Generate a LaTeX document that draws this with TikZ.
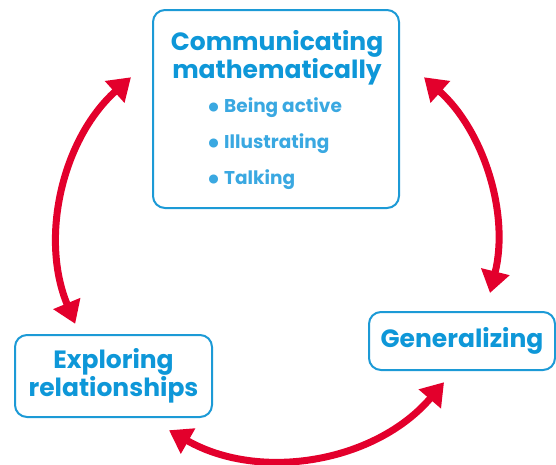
\documentclass[tikz,border=0pt]{standalone}
\usepackage{fontspec}
\newfontfamily\roundfont{Poppins}
\usepackage{tikz}
\usetikzlibrary{calc, arrows.meta, positioning}
\definecolor{boxblue}{HTML}{1C9AD6}
\definecolor{headblue}{HTML}{0E97D8}
\definecolor{itemblue}{HTML}{3AA8E1}
\definecolor{cyclered}{HTML}{E3002C}
\tikzstyle{cyclearc} = [draw=cyclered, line width=7pt, {Triangle[length=22pt,width=28pt]}-{Triangle[length=22pt,width=28pt]}]
\tikzstyle{box} = [draw=boxblue, line width=2pt, rounded corners=12pt]
\newcommand{\dotmark}{\raisebox{-4.5pt}{\fontsize{30}{30}\selectfont\textbullet}\hspace{3pt}}

\begin{document}
\begin{tikzpicture}
    [
        node distance=36pt,
        head/.style={text=headblue, font=\roundfont\bfseries\fontsize{25}{28}\selectfont, align=center, inner sep=0pt},
        point/.style={text=itemblue, font=\roundfont\bfseries\fontsize{18.5}{22}\selectfont, inner sep=0pt}
    ]
    \useasboundingbox (0,0) rectangle (556pt,-464pt);

    \begin{scope}
        % the three boxes
        \node[box, minimum width=246pt, minimum height=198pt] (comm) at (276pt,-109pt) {};
        \node[head] (comm_title) at (277pt,-58pt) {Communicating\\mathematically};
        \node[point, anchor=west] (being) at (206pt,-108pt) {\dotmark Being active};
        \node[point, below=of being.west, anchor=west] (illus) {\dotmark Illustrating};
        \node[point, below=of illus.west, anchor=west] (talk) {\dotmark Talking};

        \node[box, head, minimum width=197pt, minimum height=82pt] (explore) at (113.5pt,-376pt) {Exploring\\relationships};
        \node[box, head, minimum width=186pt, minimum height=58pt] (general) at (462pt,-341pt) {Generalizing};

        % arcs of the cycle
        \coordinate (hub) at (277.5pt,-240pt);
        \draw[cyclearc] ($(hub)+(132:219pt)$) arc[start angle=132, end angle=202.5, radius=219pt];
        \draw[cyclearc] ($(hub)+(240.3:219pt)$) arc[start angle=240.3, end angle=319.5, radius=219pt];
        \draw[cyclearc] ($(hub)+(346:219pt)$) arc[start angle=346, end angle=408, radius=219pt];
    \end{scope}

\end{tikzpicture}
\end{document}
